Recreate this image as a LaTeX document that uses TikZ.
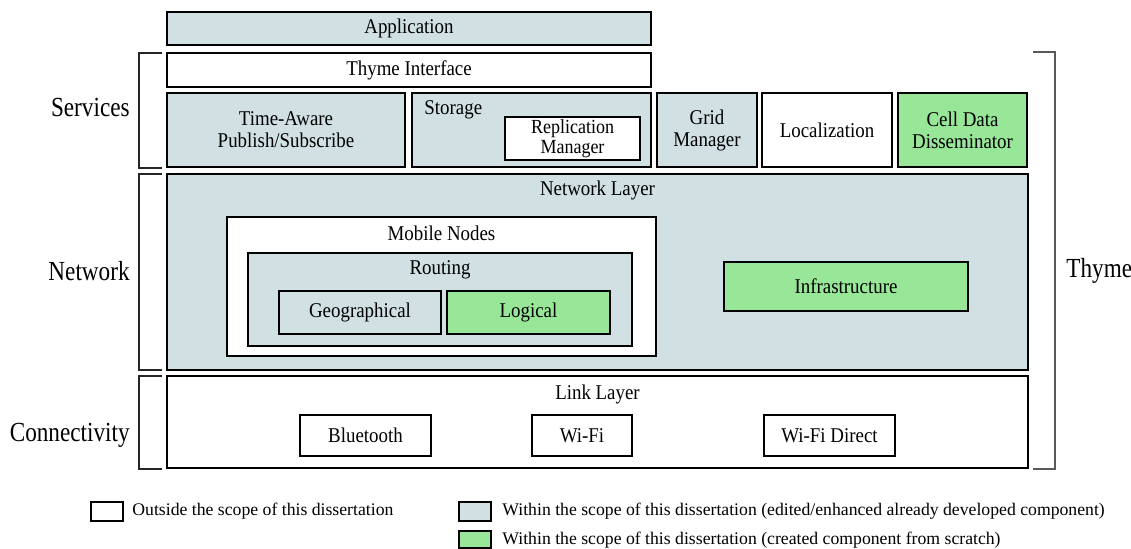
\documentclass[tikz,border=0pt]{standalone}
\usepackage{fontspec}
\setmainfont{Liberation Serif}
\newfontfamily\boxfont{Liberation Serif}[FakeStretch=0.9]
\newfontfamily\sidefont{Liberation Serif}[FakeStretch=0.84]
\definecolor{scopeblue}{RGB}{208,224,227}
\definecolor{scopegreen}{RGB}{152,230,152}
\tikzset{
  comp/.style={draw=black, line width=1pt, inner sep=0pt, align=center,
    font=\boxfont\fontsize{10.5}{11}\selectfont},
  outside/.style={comp, fill=white},
  edited/.style={comp, fill=scopeblue},
  created/.style={comp, fill=scopegreen},
  caption/.style={inner sep=0pt, align=center, font=\boxfont\fontsize{10.5}{11}\selectfont},
  side/.style={inner sep=0pt, font=\sidefont\fontsize{13.8}{16}\selectfont},
  bracket/.style={draw=black!85, line width=0.7pt},
  legbox/.style={draw=black, line width=1pt, minimum width=16pt, minimum height=9.5pt, inner sep=0pt},
  legtext/.style={inner sep=0pt, anchor=west, font=\fontsize{8.85}{10}\selectfont},
}
\begin{document}
\begin{tikzpicture}[x=0.5pt, y=-0.5pt]
\useasboundingbox (0,0) rectangle (1131,549);

% application and services
\node[edited, minimum width=242pt, minimum height=16.5pt] (app) at (409,28.5) {Application};
\node[outside, minimum width=242pt, minimum height=17pt] (thymeif) at (409,70) {Thyme Interface};
\node[edited, minimum width=119pt, minimum height=37pt] (pubsub) at (286,130) {Time-Aware\\Publish/Subscribe};
\node[edited, minimum width=119.5pt, minimum height=37pt] (storage) at (531.5,130) {};
\node[caption, anchor=west] (storagelbl) at (424,110) {Storage};
\node[outside, minimum width=67.5pt, minimum height=21.5pt,
      font=\boxfont\fontsize{10}{10}\selectfont] (repl) at (572.5,138.5) {Replication\\Manager};
\node[edited, minimum width=50pt, minimum height=37pt] (grid) at (707,130) {Grid\\Manager};
\node[outside, minimum width=65pt, minimum height=37pt] (loc) at (827,130) {Localization};
\node[created, minimum width=64.5pt, minimum height=37pt] (cell) at (962.5,130) {Cell Data\\Disseminator};

% network layer
\node[edited, minimum width=430.5pt, minimum height=98pt] (net) at (597.5,272) {};
\node[caption] (netlbl) at (597.5,190) {Network Layer};
\node[outside, minimum width=214.5pt, minimum height=69.5pt] (mobile) at (441.5,286.5) {};
\node[caption] (mobilelbl) at (441.5,233) {Mobile Nodes};
\node[edited, minimum width=192pt, minimum height=46.5pt] (routing) at (440,299.5) {};
\node[caption] (routinglbl) at (440,270) {Routing};
\node[edited, minimum width=81pt, minimum height=21.5pt] (geo) at (360,312.5) {Geographical};
\node[created, minimum width=81.5pt, minimum height=21.5pt] (logical) at (528.5,312.5) {Logical};
\node[created, minimum width=122pt, minimum height=24.5pt] (infra) at (846,286.5) {Infrastructure};

% link layer
\node[outside, minimum width=430.5pt, minimum height=46pt] (link) at (597.5,422) {};
\node[caption] (linklbl) at (597.5,394) {Link Layer};
\node[outside, minimum width=65.5pt, minimum height=20.5pt] (bt) at (365.5,435.5) {Bluetooth};
\node[outside, minimum width=50pt, minimum height=20.5pt] (wifi) at (582,435.5) {Wi-Fi};
\node[outside, minimum width=65.5pt, minimum height=20.5pt] (wfd) at (829.5,435.5) {Wi-Fi Direct};

% group brackets
\draw[bracket] (162,53) -- (139,53) -- (139,168) -- (162,168);
\draw[bracket] (162,174) -- (139,174) -- (139,370) -- (162,370);
\draw[bracket] (162,376) -- (139,376) -- (139,469) -- (162,469);
\draw[bracket, draw=black!65] (1033,52) -- (1055,52) -- (1055,469) -- (1033,469);
\node[side, anchor=east] (services) at (130,108) {Services};
\node[side, anchor=east] (network) at (130,271) {Network};
\node[side, anchor=east] (connectivity) at (130,435) {Connectivity};
\node[side, anchor=west] (thyme) at (1066,271) {Thyme};

% legend
\node[legbox, fill=white] (legout) at (107,511.5) {};
\node[legtext] (legouttxt) at (132,511.5) {Outside the scope of this dissertation};
\node[legbox, fill=scopeblue] (legedit) at (475,511.5) {};
\node[legtext] (legedittxt) at (502,511.5) {Within the scope of this dissertation (edited/enhanced already developed component)};
\node[legbox, fill=scopegreen, minimum height=8.5pt] (legnew) at (475,540) {};
\node[legtext] (legnewtxt) at (502,540) {Within the scope of this dissertation (created component from scratch)};
\end{tikzpicture}
\end{document}
